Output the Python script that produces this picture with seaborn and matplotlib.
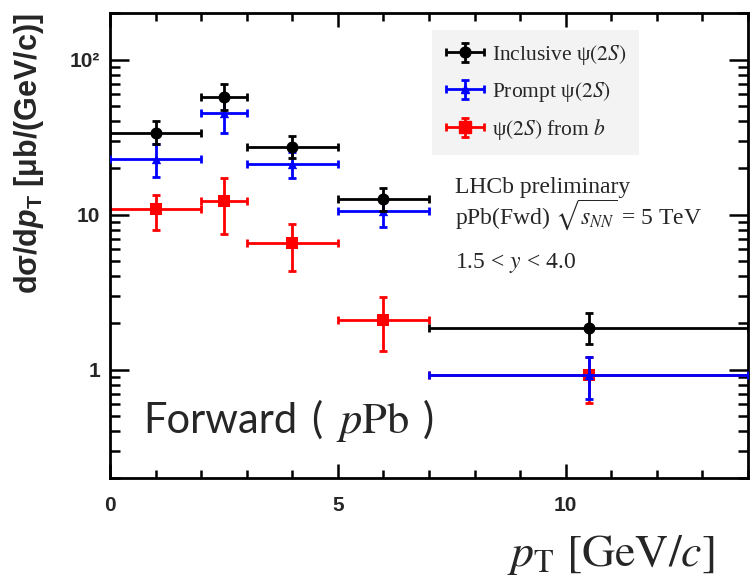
import numpy as np
import matplotlib
matplotlib.use("Agg")
import matplotlib.pyplot as plt
from matplotlib.lines import Line2D
from matplotlib.container import ErrorbarContainer
from matplotlib.legend_handler import HandlerErrorbar, HandlerTuple
from matplotlib.ticker import FixedLocator, MultipleLocator, LogLocator, NullFormatter, FuncFormatter
import seaborn as sns

# pT bins [GeV/c]
bin_lo = [0, 2, 3, 5, 7]
bin_hi = [2, 3, 5, 7, 14]

# inclusive psi(2S)
incl_y = [33.8, 57.7, 27.5, 12.7, 1.87]
incl_up = [40.4, 70.0, 32.3, 14.9, 2.33]
incl_dn = [28.7, 47.6, 23.3, 10.5, 1.47]

# prompt psi(2S)
prompt_y = [23.0, 45.5, 21.3, 10.5, 0.93]
prompt_up = [28.5, 55.0, 25.5, 12.7, 1.21]
prompt_dn = [17.6, 33.8, 17.3, 8.3, 0.65]

# psi(2S) from b
fromb_y = [10.8, 12.3, 6.6, 2.1, 0.93]
fromb_up = [13.3, 17.3, 8.75, 2.96, 1.21]
fromb_dn = [8.0, 7.5, 4.3, 1.31, 0.61]

labels = [r"Inclusive ψ$\mathit{(2S)}$", r"Prompt ψ$\mathit{(2S)}$", r"ψ$\mathit{(2S)}$ from $b$"]

sns.set_theme(style="ticks")
plt.rcParams.update({
    "font.family": ["Liberation Sans", "DejaVu Sans"],
    "mathtext.fontset": "custom",
    "mathtext.rm": "Liberation Sans:bold",
    "mathtext.bf": "Liberation Sans:bold",
    "mathtext.it": "Liberation Sans:italic:bold",
})

fig = plt.figure(figsize=(7.5, 5.8), dpi=100)
ax = fig.add_axes([110 / 750, 1 - 478 / 580, (748 - 110) / 750, (478 - 13) / 580])
ax.set_yscale("log")

lo = np.array(bin_lo, float)
hi = np.array(bin_hi, float)
xc = (lo + hi) / 2
xerr = [xc - lo, hi - xc]

series = [
    (fromb_y, fromb_up, fromb_dn, "red", "s", 85, 2),
    (prompt_y, prompt_up, prompt_dn, "blue", "^", 45, 3),
    (incl_y, incl_up, incl_dn, "black", "o", 75, 4),
]
handles = {}
for y, up, dn, col, mk, size, z in series:
    y = np.array(y); up = np.array(up); dn = np.array(dn)
    eb = ax.errorbar(xc, y, xerr=xerr, yerr=[y - dn, up - y], fmt="none",
                     ecolor=col, elinewidth=2, capsize=3, capthick=2, zorder=z)
    sns.scatterplot(x=xc, y=y, marker=mk, s=size, color=col, edgecolor=col,
                    linewidth=0, zorder=z + 0.5, ax=ax, legend=False)
    proxy = Line2D([], [], linestyle="none", marker=mk, color=col,
                   markersize=np.sqrt(size) * 0.9)
    handles[col] = (eb, proxy)

ax.set_xlim(0, 14)
ax.set_ylim(0.2, 200)
ax.set_xlabel("")
ax.set_ylabel("")

ax.xaxis.set_major_locator(FixedLocator([0, 5, 10]))
ax.xaxis.set_minor_locator(MultipleLocator(1))
ax.yaxis.set_major_locator(FixedLocator([1, 10, 100]))
ax.yaxis.set_minor_locator(LogLocator(base=10, subs=np.arange(2, 10)))
ax.yaxis.set_minor_formatter(NullFormatter())
ax.yaxis.set_major_formatter(FuncFormatter(lambda v, p: {1: "1", 10: "10", 100: "10²"}.get(int(round(v)), "")))

for s in ax.spines.values():
    s.set_linewidth(2)
    s.set_color("black")

leg = ax.legend([handles["black"], handles["blue"], handles["red"]], labels,
                handler_map={ErrorbarContainer: HandlerErrorbar(xerr_size=0.9, yerr_size=0.45),
                             tuple: HandlerTuple(ndivide=1)},
                loc="upper left", bbox_to_anchor=(432 / 750, 1 - 30 / 580),
                bbox_transform=fig.transFigure, borderaxespad=0,
                prop={"family": "Liberation Serif", "size": 15.5, "math_fontfamily": "stix"},
                frameon=True, fancybox=False, facecolor="#f3f3f3", edgecolor="none",
                framealpha=1, borderpad=0.6, labelspacing=0.6,
                handlelength=1.86, handletextpad=0.33)
leg.get_frame().set_linewidth(0)

serif = dict(family="Liberation Serif", fontsize=17, math_fontfamily="stix", va="baseline")
fig.text(455 / 750, 1 - 193 / 580, "LHCb preliminary", **serif)
fig.text(455 / 750, 1 - 224 / 580, r"pPb(Fwd) $\sqrt{s_{NN}}$ = 5 TeV", **serif)
fig.text(455 / 750, 1 - 268 / 580, r"1.5 < $y$ < 4.0", **serif)

fig.text(143 / 750, 1 - 433 / 580, "Forward", family="Lato", fontsize=30, va="baseline")
fig.text(311 / 750, 1 - 433 / 580, "(", family="Lato", fontsize=30, va="baseline")
fig.text(336 / 750, 1 - 433 / 580, r"$p\mathrm{Pb}$", fontsize=32,
         math_fontfamily="stix", va="baseline")
fig.text(423 / 750, 1 - 433 / 580, ")", family="Lato", fontsize=30, va="baseline")

fig.text(507 / 750, 1 - 566 / 580, r"$p_{\mathrm{T}}\ [\mathrm{GeV}/c]$", fontsize=33,
         math_fontfamily="stix", va="baseline")

fig.text(29 / 750, 1 - 13 / 580, r"dσ/d$p_{\mathrm{T}}$ [μb/(GeV/c)]", rotation=90,
         fontsize=22, fontweight="bold", ha="center", va="top", math_fontfamily="custom")

# ticks last, ROOT style: inward on all four sides
ax.tick_params(axis="both", which="both", direction="in", top=True, right=True,
               bottom=True, left=True, color="black")
ax.tick_params(axis="x", which="major", length=10, width=1.8, pad=13, labelsize=15)
ax.tick_params(axis="x", which="minor", length=5.5, width=1.8)
ax.tick_params(axis="y", which="major", length=14, width=1.8, pad=7, labelsize=15)
ax.tick_params(axis="y", which="minor", length=7, width=1.8)
for t in ax.get_xticklabels() + ax.get_yticklabels():
    t.set_fontweight("bold")

fig.savefig("out.png", dpi=100)
